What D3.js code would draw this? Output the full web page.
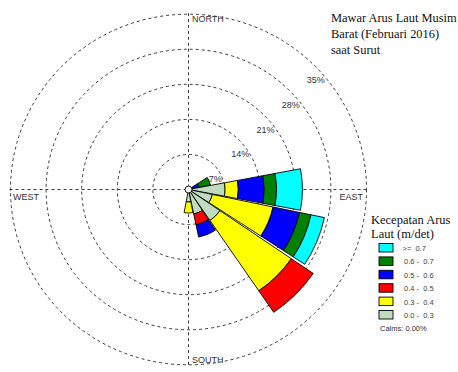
<!DOCTYPE html>
<html>
<head>
<meta charset="utf-8">
<script src="https://cdn.jsdelivr.net/npm/d3@7"></script>
<style>
  html, body { margin: 0; padding: 0; background: #fff; }
  svg { display: block; }
  text { white-space: pre; }
</style>
</head>
<body>
<svg id="chart" width="458" height="372"></svg>
<script>
// ---------- DATA ----------
const directions = ["N","NNE","NE","ENE","E","ESE","SE","SSE","S","SSW","SW","WSW","W","WNW","NW","NNW"];
const speedBins = ["0.0 - 0.3", "0.3 - 0.4", "0.4 - 0.5", "0.5 - 0.6", "0.6 - 0.7", ">= 0.7"];
const legendLabels = [">=  0.7", "0.6 -  0.7", "0.5 -  0.6", "0.4 -  0.5", "0.3 -  0.4", "0.0 -  0.3"];
const binColors = ["#c0dcc0", "#ffff00", "#ff0000", "#0000ff", "#008000", "#00ffff"];
// frequency (%) per direction for each speed bin
const bin0_3  = [0,0,0,0,   7.2, 4.8, 7.5, 5.0, 2.5, 0,0,0,0,0,0,0];
const bin3_4  = [0,0,0,0,   2.6,12.2,17.0, 0,   2.2, 0,0,0,0,0,0,0];
const bin4_5  = [0,0,0,0,   0,   0,   5.2, 2.2, 0,   0,0,0,0,0,0,0];
const bin5_6  = [0,0,0,2.1, 5.1, 5.3, 0,   2.5, 0,   0,0,0,0,0,0,0];
const bin6_7  = [0,0,0,2.3, 2.4, 2.3, 0,   0,   0,   0,0,0,0,0,0,0];
const bin7up  = [0,0,0,0,   5.1, 2.7, 0,   0,   0,   0,0,0,0,0,0,0];
const ringTicks = [7, 14, 21, 28, 35];
const compassLabels = ["NORTH", "EAST", "SOUTH", "WEST"];
const titleLines = ["Mawar Arus Laut Musim", "Barat (Februari 2016)", "saat Surut"];
const legendTitle = ["Kecepatan Arus", "Laut (m/det)"];
const calmsText = "Calms: 0.00%";

// ---------- LAYOUT ----------
const svg = d3.select("#chart");
const cx = 188.5, cy = 189.5, R = 178;
const r = d3.scaleLinear().domain([0, 35]).range([0, R]);
const sector = 2 * Math.PI / directions.length;
const barWidth = sector * (21.3 / 22.5);

const g = svg.append("g").attr("transform", `translate(${cx},${cy}) scale(1,0.985)`);

// rings
g.selectAll("circle.ring").data(ringTicks).join("circle")
  .attr("class", "ring")
  .attr("r", d => r(d))
  .attr("fill", "none")
  .attr("stroke", "#222")
  .attr("stroke-width", 0.9)
  .attr("stroke-dasharray", "3,3");

// crosshair
g.append("line").attr("x1", 0).attr("x2", 0).attr("y1", -R - 1).attr("y2", R + 1)
  .attr("stroke", "#222").attr("stroke-width", 0.9).attr("stroke-dasharray", "3,3");
g.append("line").attr("x1", -R - 1).attr("x2", R + 1).attr("y1", 0).attr("y2", 0)
  .attr("stroke", "#222").attr("stroke-width", 0.9).attr("stroke-dasharray", "3,3");

// stacked data
const bins = [bin0_3, bin3_4, bin4_5, bin5_6, bin6_7, bin7up];
const segs = [];
directions.forEach((dir, i) => {
  let acc = 0;
  bins.forEach((arr, b) => {
    const v = arr[i];
    if (v > 0) {
      segs.push({ dir: i, bin: b, r0: acc, r1: acc + v });
      acc += v;
    }
  });
});

const arc = d3.arc()
  .innerRadius(d => r(d.r0))
  .outerRadius(d => r(d.r1))
  .startAngle(d => d.dir * sector - barWidth / 2)
  .endAngle(d => d.dir * sector + barWidth / 2);

g.selectAll("path.seg").data(segs).join("path")
  .attr("class", "seg")
  .attr("d", arc)
  .attr("fill", d => binColors[d.bin])
  .attr("stroke", "#000")
  .attr("stroke-width", 0.9)
  .attr("stroke-linejoin", "miter");

// calm circle
g.append("circle").attr("r", 3.5).attr("fill", "#fff").attr("stroke", "#000").attr("stroke-width", 0.9);

// ring labels
g.selectAll("text.rl").data(ringTicks).join("text")
  .attr("class", "rl")
  .attr("x", d => r(d) * Math.SQRT1_2 + 1.5)
  .attr("y", d => -r(d) * Math.SQRT1_2 + 14.8 + 3)
  .attr("text-anchor", "middle")
  .attr("font-family", "Liberation Sans, Arial, sans-serif")
  .attr("font-size", 9)
  .attr("fill", "#333")
  .text(d => d + "%");

// compass labels
const compassPos = [
  { x: 192, y: 22, anchor: "start" },
  { x: 363, y: 200, anchor: "end" },
  { x: 192, y: 363, anchor: "start" },
  { x: 13, y: 200, anchor: "start" }
];
svg.selectAll("text.cmp").data(compassLabels).join("text")
  .attr("class", "cmp")
  .attr("x", (d, i) => compassPos[i].x)
  .attr("y", (d, i) => compassPos[i].y)
  .attr("text-anchor", (d, i) => compassPos[i].anchor)
  .attr("font-family", "Liberation Sans, Arial, sans-serif")
  .attr("font-size", 9)
  .attr("fill", "#333")
  .text(d => d);

// title
svg.selectAll("text.title").data(titleLines).join("text")
  .attr("class", "title")
  .attr("x", 331)
  .attr("y", (d, i) => 22 + i * 16)
  .attr("font-family", "Liberation Serif, Times New Roman, serif")
  .attr("font-size", 12.4)
  .attr("fill", "#111")
  .text(d => d);

// legend title
svg.selectAll("text.lt").data(legendTitle).join("text")
  .attr("class", "lt")
  .attr("x", 371)
  .attr("y", (d, i) => 224 + i * 13.5)
  .attr("font-family", "Liberation Serif, Times New Roman, serif")
  .attr("font-size", 12.5)
  .attr("fill", "#111")
  .text(d => d);

// legend boxes (top: highest bin)
const legendColors = binColors.slice().reverse();
const lg = svg.append("g");
lg.selectAll("rect").data(legendColors).join("rect")
  .attr("x", 379)
  .attr("y", (d, i) => 243.5 + i * 13.4)
  .attr("width", 14)
  .attr("height", 8.5)
  .attr("fill", d => d)
  .attr("stroke", "#000")
  .attr("stroke-width", 0.9);
lg.selectAll("text").data(legendLabels).join("text")
  .attr("x", (d, i) => i === 0 ? 402.5 : 404)
  .attr("y", (d, i) => 251 + i * 13.4)
  .attr("font-family", "Liberation Sans, Arial, sans-serif")
  .attr("font-size", 7.5)
  .attr("fill", "#444")
  .text(d => d);

svg.append("text")
  .attr("x", 380)
  .attr("y", 331)
  .attr("font-family", "Liberation Sans, Arial, sans-serif")
  .attr("font-size", 7.5)
  .attr("fill", "#333")
  .text(calmsText);
</script>
</body>
</html>
